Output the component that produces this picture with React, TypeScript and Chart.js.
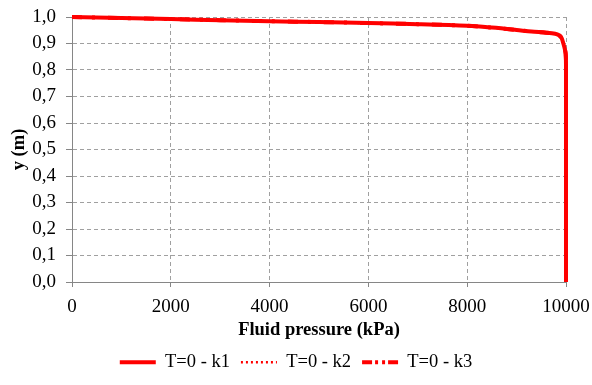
import { useEffect, useRef } from "react";
import { Chart, registerables } from "chart.js";

Chart.register(...registerables);

const seriesNames = ["T=0 - k1", "T=0 - k2", "T=0 - k3"];

const pressureK1 = [0, 1000, 2000, 3000, 4000, 5000, 6000, 7000, 8000, 8500, 9000, 9300, 9600, 9780, 9860, 9910, 9946, 9975, 9994, 10000, 10000, 10000];
const depthK1 = [1.0, 0.996, 0.992, 0.988, 0.984, 0.981, 0.977, 0.973, 0.967, 0.960, 0.951, 0.945, 0.941, 0.937, 0.931, 0.921, 0.90, 0.88, 0.86, 0.82, 0.4, 0.0];

const pressureK2 = [0, 1000, 2000, 3000, 4000, 5000, 6000, 7000, 8000, 8500, 9000, 9300, 9600, 9780, 9860, 9910, 9946, 9975, 9994, 10000, 10000, 10000];
const depthK2 = [1.0, 0.996, 0.992, 0.988, 0.984, 0.981, 0.977, 0.973, 0.967, 0.960, 0.951, 0.945, 0.941, 0.937, 0.931, 0.921, 0.90, 0.88, 0.86, 0.82, 0.4, 0.0];

const pressureK3 = [0, 1000, 2000, 3000, 4000, 5000, 6000, 7000, 8000, 8500, 9000, 9300, 9600, 9780, 9860, 9910, 9946, 9975, 9994, 10000, 10000, 10000];
const depthK3 = [1.0, 0.996, 0.992, 0.988, 0.984, 0.981, 0.977, 0.973, 0.967, 0.960, 0.951, 0.945, 0.941, 0.937, 0.931, 0.921, 0.90, 0.88, 0.86, 0.82, 0.4, 0.0];

const xAxisTitle = "Fluid pressure (kPa)";
const yAxisTitle = "y (m)";

const FONT = "'Liberation Serif', 'Times New Roman', serif";

export default function App() {
  const ref = useRef<HTMLCanvasElement>(null);

  useEffect(() => {
    document.body.style.margin = "0";
    const mk = (p: number[], y: number[]) => p.map((v, i) => ({ x: v, y: y[i] }));
    const base = {
      showLine: true,
      borderColor: "#ff0000",
      backgroundColor: "rgba(0,0,0,0)",
      pointRadius: 0,
      pointHoverRadius: 0,
      tension: 0.3,
      clip: false,
    };
    const chart = new Chart(ref.current!, {
      type: "scatter",
      data: {
        datasets: [
          { ...base, label: seriesNames[0], data: mk(pressureK1, depthK1), borderWidth: 4 },
          { ...base, label: seriesNames[1], data: mk(pressureK2, depthK2), borderWidth: 2.5, borderDash: [2, 3] },
          { ...base, label: seriesNames[2], data: mk(pressureK3, depthK3), borderWidth: 4, borderDash: [10, 10, 3, 13] },
        ] as any,
      },
      options: {
        animation: false,
        responsive: false,
        maintainAspectRatio: false,
        layout: { padding: { left: 0, right: 0, top: 17, bottom: 3.5 } },
        plugins: {
          legend: {
            position: "bottom",
            labels: {
              usePointStyle: false,
              boxWidth: 36,
              boxHeight: 0,
              font: { family: FONT, size: 18.5 },
              color: "#000",
              padding: 11,
            },
          },
          tooltip: { enabled: false },
        },
        scales: {
          x: {
            type: "linear",
            min: 0,
            max: 10000,
            ticks: {
              stepSize: 2000,
              font: { family: FONT, size: 19 },
              color: "#000",
              padding: 9,
              maxRotation: 0,
              autoSkip: false,
              callback: (v: any) => String(v),
            },
            grid: { color: "#a0a0a0", tickColor: "#868686", tickLength: 5, tickBorderDash: [] },
            border: { color: "#868686", dash: [4, 3] },
            title: { display: true, text: xAxisTitle, font: { family: FONT, size: 18.5, weight: "bold" }, color: "#000", padding: { top: 2, bottom: 1 } },
            afterFit: (s: any) => { s.height = 60; s.paddingLeft = 0; s.paddingRight = 26; },
          },
          y: {
            type: "linear",
            min: 0,
            max: 1,
            ticks: {
              stepSize: 0.1,
              autoSkip: false,
              font: { family: FONT, size: 19 },
              color: "#000",
              padding: 10,
              callback: (v: any) => Number(v).toFixed(1).replace(".", ","),
            },
            grid: { color: "#a0a0a0", tickColor: "#868686", tickLength: 6, tickBorderDash: [] },
            border: { color: "#868686", dash: [4, 3] },
            title: { display: true, text: yAxisTitle, font: { family: FONT, size: 18.5, weight: "bold" }, color: "#000", padding: { top: 8, bottom: 4 } },
            afterFit: (s: any) => { s.width = 72; s.paddingTop = 0; s.paddingBottom = 0; },
          },
        },
      } as any,
    });
    return () => chart.destroy();
  }, []);

  return <canvas ref={ref} width={592} height={385} style={{ display: "block" }} />;
}
